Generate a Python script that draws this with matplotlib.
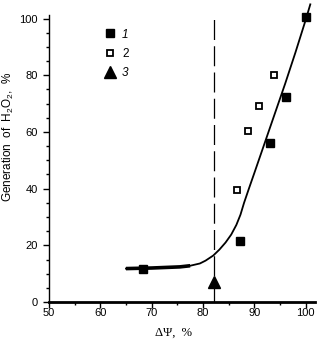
import matplotlib
matplotlib.use("Agg")
import matplotlib.pyplot as plt
from matplotlib.lines import Line2D
from matplotlib.ticker import MultipleLocator

plt.rcParams['font.family'] = ['Liberation Sans', 'DejaVu Sans']
plt.rcParams['mathtext.fontset'] = 'custom'
plt.rcParams['mathtext.rm'] = 'Liberation Sans'
plt.rcParams['mathtext.it'] = 'Liberation Sans:italic'

# series 1 (filled squares)
s1_x = [68.3, 87.2, 93.1, 96.2, 100.1]
s1_y = [11.6, 21.5, 56.2, 72.4, 100.4]
# series 2 (open squares)
s2_x = [86.7, 88.7, 90.9, 93.9]
s2_y = [39.4, 60.3, 69.3, 80.1]
# series 3 (triangle)
s3_x = [82.2]
s3_y = [6.9]

# fitted curve
fit_x = [65.0, 70.0, 75.5, 77.5, 79.4, 80.5, 82.0, 83.2, 84.4, 85.5, 86.5,
         87.3, 88.0, 89.0, 90.0, 92.0, 94.0, 96.0, 98.0, 100.0, 100.9]
fit_y = [11.8, 12.0, 12.4, 12.8, 13.6, 14.6, 16.4, 18.5, 21.0, 23.8, 27.2,
         30.8, 35.0, 40.3, 45.5, 56.0, 66.5, 77.0, 88.0, 99.5, 105.0]
plateau_end = 4  # bold part of the curve

threshold = 82.2

fig = plt.figure(figsize=(3.22, 3.44), dpi=100)
ax = fig.add_axes([0.152, 0.122, 0.826, 0.834])

ax.axvline(threshold, color='black', lw=0.9, linestyle=(0, (16, 5)))

ax.plot(fit_x, fit_y, color='black', lw=1.3, clip_on=False, zorder=3)
ax.plot(fit_x[:plateau_end], fit_y[:plateau_end], color='black', lw=2.6,
        solid_capstyle='butt', zorder=3)

ax.plot(s1_x, s1_y, 's', color='black', ms=5.5, zorder=4, clip_on=False)
ax.plot(s2_x, s2_y, 's', mfc='white', mec='black', mew=1.3, ms=4.5, zorder=4)
ax.plot(s3_x, s3_y, '^', color='black', ms=8.5, zorder=4)

handles = [Line2D([], [], ls='none', marker='s', color='black', ms=5.5),
           Line2D([], [], ls='none', marker='s', mfc='white', mec='black', mew=1.3, ms=4.5),
           Line2D([], [], ls='none', marker='^', color='black', ms=8.5)]
leg = ax.legend(handles, ['1', '2', '3'], loc='upper left', bbox_to_anchor=(0.155, 0.99),
                frameon=False, fontsize=8.5, handletextpad=0.3, labelspacing=0.6,
                handlelength=1.5)
leg.get_texts()[0].set_style('italic')
leg.get_texts()[2].set_style('italic')

ax.set_xlim(50, 101.8)
ax.set_ylim(0, 101.2)
ax.xaxis.set_major_locator(MultipleLocator(10))
ax.xaxis.set_minor_locator(MultipleLocator(5))
ax.yaxis.set_major_locator(MultipleLocator(20))
ax.yaxis.set_minor_locator(MultipleLocator(5))

ax.spines['top'].set_visible(False)
ax.spines['right'].set_visible(False)
ax.spines['bottom'].set_linewidth(2)
ax.spines['left'].set_linewidth(1)

ax.tick_params(axis='both', which='major', direction='out', length=4, width=1,
               labelsize=8)
ax.tick_params(axis='both', which='minor', direction='out', length=2.5, width=1)
ax.tick_params(axis='x', which='major', pad=0.5)
ax.tick_params(axis='y', which='major', pad=4)

ax.set_xlabel('ΔΨ,  %', fontsize=9, family=['Liberation Serif', 'DejaVu Serif'])
ax.xaxis.set_label_coords(0.47, -0.085)
ax.set_ylabel('Generation  of  H$_2$O$_2$,  %', fontsize=8.5)
ax.yaxis.set_label_coords(-0.125, 0.575)

fig.savefig('out.png', dpi=100)
